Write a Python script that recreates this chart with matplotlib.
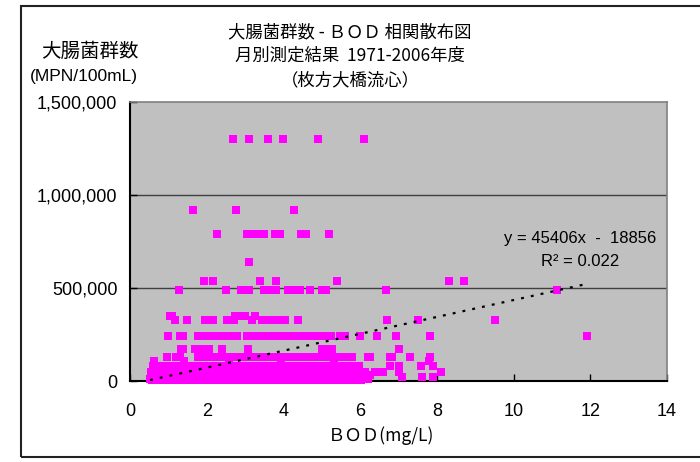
import matplotlib
matplotlib.use('Agg')
import matplotlib.pyplot as plt
from matplotlib.patches import Rectangle

# ---------------- data (BOD mg/L per coliform level MPN/100mL) ----------------
bod_1300k = [2.69, 3.10, 3.60, 4.00, 4.90, 6.10]
bod_920k = [1.63, 2.76, 4.27]
bod_790k = [2.28, 3.04, 3.17, 3.35, 3.50, 3.78, 3.91, 4.47, 4.60, 5.20]
bod_640k = [3.10]
bod_540k = [1.93, 2.17, 3.40, 3.80, 5.39, 8.32, 8.71]
bod_490k = [1.29, 2.49, 2.89, 3.10, 3.50, 3.69, 3.80, 4.11, 4.24, 4.35, 4.43,
            4.70, 5.00, 5.12, 6.67, 11.12]
bod_350k = [1.03, 1.10, 2.74, 2.87, 3.00, 3.26]
bod_330k = [1.17, 1.48, 1.96, 2.17, 2.52, 2.61, 2.70, 3.17, 3.43, 3.52, 3.60,
            3.70, 3.82, 3.95, 4.04, 4.39, 6.69, 7.52, 9.51]
bod_240k = [1.00, 1.30, 1.38, 1.78, 1.90, 2.00, 2.12, 2.21, 2.33, 2.41, 2.52,
            2.63, 2.70, 2.78, 3.04, 3.15, 3.26, 3.34, 3.47, 3.55, 3.66, 3.74,
            3.86, 3.95, 4.06, 4.14, 4.27, 4.35, 4.44, 4.57, 4.65, 4.76, 4.84,
            5.00, 5.13, 5.24, 5.47, 5.61, 6.00, 6.43, 6.93, 7.81, 11.92]
bod_170k = [1.32, 1.39, 1.69, 1.80, 2.00, 2.07, 2.39, 3.08, 5.00, 5.04, 5.17,
            5.26, 7.02]
bod_130k = [0.96, 1.21, 1.30, 1.76, 1.88, 2.02, 2.13, 2.27, 2.38, 2.51, 2.63,
            2.74, 2.85, 3.01, 3.12, 3.24, 3.37, 3.48, 3.61, 3.72, 3.86, 3.97,
            4.08, 4.22, 4.33, 4.46, 4.57, 4.71, 4.82, 4.95, 5.10, 5.23, 5.36,
            5.51, 5.64, 5.78, 6.21, 6.26, 6.78, 6.82, 7.30, 7.82]
bod_110k = [0.62, 1.41, 2.58, 3.93, 5.31, 7.80]
bod_79k = [0.59, 0.71, 0.86, 1.02, 1.17, 1.31, 1.46, 1.62, 1.77, 1.91, 2.06,
           2.22, 2.37, 2.51, 2.66, 2.83, 2.97, 3.12, 3.28, 3.42, 3.57, 3.73,
           3.88, 4.02, 4.17, 4.33, 4.48, 4.63, 4.79, 4.93, 5.08, 5.24, 5.39,
           5.53, 5.68, 5.84, 5.97, 6.78, 7.01, 7.59, 7.90]
bod_49k = [0.55, 0.68, 0.83, 0.97, 1.13, 1.27, 1.43, 1.58, 1.72, 1.88, 2.03,
           2.18, 2.33, 2.47, 2.63, 2.78, 2.92, 3.08, 3.23, 3.38, 3.53, 3.67,
           3.83, 3.98, 4.13, 4.28, 4.42, 4.58, 4.73, 4.88, 5.03, 5.17, 5.33,
           5.48, 5.62, 5.78, 5.92, 6.07, 6.13, 6.39, 6.60, 7.01, 8.12]
bod_33k = [0.61, 0.77, 0.92, 1.07, 1.22, 1.37, 1.52, 1.67, 1.83, 1.97, 2.12,
           2.27, 2.42, 2.57, 2.72, 2.87, 3.02, 3.17, 3.32, 3.47, 3.62, 3.78,
           3.92, 4.07, 4.22, 4.38, 4.52, 4.67, 4.82, 4.97, 5.12, 5.27, 5.42,
           5.57, 5.72, 5.87, 6.02, 6.18, 6.26]
bod_23k = [0.57, 0.73, 0.88, 1.03, 1.18, 1.33, 1.48, 1.63, 1.78, 1.93, 2.08,
           2.23, 2.38, 2.53, 2.68, 2.83, 2.98, 3.13, 3.28, 3.43, 3.58, 3.73,
           3.88, 4.03, 4.18, 4.33, 4.48, 4.63, 4.78, 4.93, 5.08, 5.23, 5.38,
           5.53, 5.68, 5.83, 5.98, 6.12, 7.10, 7.60, 7.90]
bod_13k = [0.52, 0.66, 0.81, 0.95, 1.11, 1.25, 1.41, 1.56, 1.71, 1.86, 2.01,
           2.16, 2.31, 2.46, 2.61, 2.76, 2.91, 3.06, 3.21, 3.36, 3.51, 3.66,
           3.81, 3.96, 4.11, 4.26, 4.41, 4.56, 4.71, 4.86, 5.01, 5.16, 5.31,
           5.46, 5.61, 5.76, 5.91, 6.05, 6.21]
bod_5k = [0.58, 0.74, 0.90, 1.06, 1.24, 1.39, 1.55, 1.70, 1.85, 2.02, 2.19,
          2.34, 2.50, 2.65, 2.81, 2.96, 3.11, 3.27, 3.44, 3.59, 3.74, 3.90,
          4.06, 4.21, 4.37, 4.53, 4.68, 4.83, 4.99, 5.14, 5.29, 5.44, 5.60,
          5.75, 5.90, 6.03]

levels = [1300000, 920000, 790000, 640000, 540000, 490000, 350000, 330000,
          240000, 170000, 130000, 110000, 79000, 49000, 33000, 23000, 13000, 4900]
bod_by_level = [bod_1300k, bod_920k, bod_790k, bod_640k, bod_540k, bod_490k,
                bod_350k, bod_330k, bod_240k, bod_170k, bod_130k, bod_110k,
                bod_79k, bod_49k, bod_33k, bod_23k, bod_13k, bod_5k]

trend_slope = 45406
trend_intercept = -18856
r_squared = 0.022

x_ticks = [0, 2, 4, 6, 8, 10, 12, 14]
y_ticks = [0, 500000, 1000000, 1500000]

bod = []
coli = []
for lv, xs in zip(levels, bod_by_level):
    bod.extend(xs)
    coli.extend([lv] * len(xs))

# ---------------- figure ----------------
W, H = 700, 462
fig = plt.figure(figsize=(7, 4.62), dpi=100)
fig.patch.set_facecolor('white')

def fx(px):
    return px / W

def fy(py):
    return 1 - py / H

LAT = ['Liberation Sans', 'Noto Sans CJK JP', 'DejaVu Sans']
CJK = ['Noto Sans CJK JP', 'DejaVu Sans']

# outer border
fig.patches.append(Rectangle((fx(21), fy(457)), 1.2, fy(6) - fy(457),
                             transform=fig.transFigure, fill=False,
                             edgecolor='#222222', linewidth=1.5))

ax = fig.add_axes([fx(130), fy(381), fx(667) - fx(130), fy(102) - fy(381)])
ax.set_facecolor('#C0C0C0')
ax.set_xlim(0, 14)
ax.set_ylim(0, 1500000)

for yv in [500000, 1000000]:
    ax.axhline(yv, color='#404040', linewidth=1.0, zorder=1)

ax.scatter(bod, coli, marker='s', s=26, color='#FF00FF', linewidths=0,
           zorder=3, clip_on=False)

tx = [min(bod), max(bod)]
ty = [trend_slope * v + trend_intercept for v in tx]
ax.plot(tx, ty, color='black', linewidth=1.6, linestyle=(0, (1.3, 3.2)),
        zorder=4)

ax.spines['left'].set_color('black')
ax.spines['bottom'].set_color('black')
ax.spines['left'].set_linewidth(1.5)
ax.spines['bottom'].set_linewidth(1.5)
ax.spines['top'].set_color('#808080')
ax.spines['right'].set_color('#808080')
ax.spines['top'].set_linewidth(1.2)
ax.spines['right'].set_linewidth(1.2)

ax.set_xticks(x_ticks)
ax.set_xticklabels([str(v) for v in x_ticks], family=LAT, fontsize=13)
ax.set_yticks(y_ticks)
ax.set_yticklabels(['{:,}'.format(v) for v in y_ticks], family=LAT,
                   fontsize=13)
ax.tick_params(axis='x', direction='in', length=5, width=1, pad=16,
               color='black')
ax.tick_params(axis='y', direction='in', length=5, width=1, pad=9,
               color='black')

# titles
fig.text(fx(350), fy(32), '大腸菌群数 - ＢＯＤ 相関散布図', ha='center',
         va='center', fontsize=12.5, family=CJK)
fig.text(fx(350), fy(56), '月別測定結果  1971-2006年度', ha='center',
         va='center', fontsize=12.5, family=CJK)
fig.text(fx(350), fy(80), '（枚方大橋流心）', ha='center', va='center',
         fontsize=12.5, family=CJK)

fig.text(fx(90), fy(51), '大腸菌群数', ha='center', va='center',
         fontsize=14, family=CJK)
fig.text(fx(84), fy(76), '(MPN/100mL)', ha='center', va='center',
         fontsize=12.5, family=LAT)

fig.text(fx(381), fy(436), 'ＢＯＤ(mg/L)', ha='center', va='center',
         fontsize=12.5, family=CJK)

fig.text(fx(580), fy(238), 'y = {}x  -  {}'.format(trend_slope,
                                                   -trend_intercept),
         ha='center', va='center', fontsize=12, family=LAT)
fig.text(fx(580), fy(262), 'R² = {:.3f}'.format(r_squared), ha='center',
         va='center', fontsize=12, family=LAT)

fig.savefig('out.png', dpi=100)
